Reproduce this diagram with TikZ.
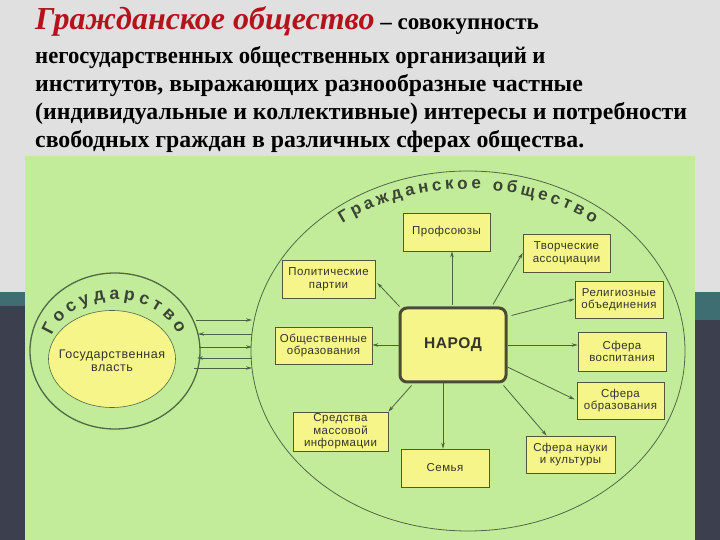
\documentclass[tikz,border=0pt]{standalone}
\usepackage{fontspec}
\setmainfont{Liberation Serif}
\newfontfamily\boxf[LetterSpace=4]{Liberation Sans}
\newfontfamily\ringf{Liberation Sans}
\usetikzlibrary{arrows.meta,calc,decorations.text,shapes.geometric}
\definecolor{bggray}{HTML}{E0E0E0}
\definecolor{stripteal}{HTML}{3E6E72}
\definecolor{stripdark}{HTML}{3C3F4E}
\definecolor{panelgreen}{HTML}{C3EC9A}
\definecolor{boxfill}{HTML}{F5F58A}
\definecolor{boxline}{HTML}{55553A}
\definecolor{boxtext}{HTML}{35352A}
\definecolor{ringline}{HTML}{4E6A45}
\definecolor{arrline}{HTML}{4A6340}
\definecolor{ringtext}{HTML}{3A4535}
\definecolor{titlered}{HTML}{B5121B}
\begin{document}
\begin{tikzpicture}[x=1pt,y=1pt,
  box/.style={draw=boxline, fill=boxfill, line width=0.7pt, text=boxtext, align=center,
    inner sep=0pt, font=\boxf\fontsize{11.5}{12.5}\selectfont},
  arr/.style={draw=arrline, line width=0.8pt, -{Stealth[length=6pt,width=3.5pt]}},
  titleline/.style={anchor=base west, inner sep=0pt, font=\bfseries\fontsize{23.8}{26}\selectfont}]
\useasboundingbox (0,0) rectangle (720,540);
% background
\fill[bggray] (0,0) rectangle (720,540);
\fill[stripteal] (0,0) rectangle (25,248);
\fill[stripdark] (0,0) rectangle (25,234);
\fill[stripteal] (695,0) rectangle (720,248);
\fill[stripdark] (695,0) rectangle (720,220);
\fill[panelgreen] (25,0) rectangle (695,384);

% title
\node[titleline] (t1) at (35,510) {{\color{titlered}\itshape\fontsize{32}{34}\selectfont Гражданское общество} {\fontsize{23}{26}\selectfont– совокупность}};
\node[titleline] (t2) at (35,476) {\scalebox{0.953}[1]{негосударственных общественных организаций и}};
\node[titleline] (t3) at (35,448) {институтов, выражающих разнообразные частные};
\node[titleline] (t4) at (35,420) {(индивидуальные и коллективные) интересы и потребности};
\node[titleline] (t5) at (35,392) {свободных граждан в различных сферах общества.};

% civil society ellipse
\draw[ringline, line width=0.8pt] (468,189) ellipse [x radius=217, y radius=180];
\path[decorate, decoration={text along path, text align=fit to path,
  text={|\ringf\bfseries\fontsize{17}{18}\selectfont\color{ringtext}|Гражданское общество}}]
  ([shift={(468,189)}]128:204 and 162) arc[start angle=128, end angle=52, x radius=204, y radius=162];

% state ellipses
\draw[ringline, line width=1.3pt] (115,189) ellipse [x radius=85, y radius=78];
\draw[ringline, line width=0.6pt, fill=boxfill] (112,181) ellipse [x radius=63.5, y radius=48.5];
\node[inner sep=0pt, align=center, text=boxtext, font=\boxf\fontsize{12.5}{13.5}\selectfont] (vlast) at (112,179)
  {Государственная\\власть};
\path[decorate, decoration={text along path, text align=fit to path,
  text={|\ringf\bfseries\fontsize{17.5}{18}\selectfont\color{ringtext}|Государство}}]
  ([shift={(115,189)}]163:66 and 52) arc[start angle=163, end angle=19, x radius=66, y radius=52];

% arrows between state and society
\coordinate (sA1) at (196,220); \coordinate (cA1) at (252,220);
\coordinate (sA2) at (198,206); \coordinate (cA2) at (252,206);
\coordinate (sA3) at (199,193); \coordinate (cA3) at (252,193);
\coordinate (sA4) at (197,182); \coordinate (cA4) at (252,182);
\coordinate (sA5) at (194,172); \coordinate (cA5) at (252,172);
\draw[arr] (sA1) -- (cA1);
\draw[arr] (cA2) -- (sA2);
\draw[arr] (sA3) -- (cA3);
\draw[arr] (cA4) -- (sA4);
\draw[arr] (sA5) -- (cA5);

% boxes
\node[box, draw=boxline!90!black, line width=3pt, rounded corners=7pt, minimum width=106pt, minimum height=74pt,
  font=\boxf\bfseries\fontsize{15.5}{17}\selectfont] (narod) at (453,195) {НАРОД};
\node[box, minimum width=87pt, minimum height=38pt] (prof) at (446.5,308) {Профсоюзы};
\node[box, minimum width=87pt, minimum height=38pt] (tvor) at (566.5,287) {Творческие\\ассоциации};
\node[box, minimum width=88pt, minimum height=37pt] (relig) at (619,240.5) {Религиозные\\объединения};
\node[box, minimum width=88pt, minimum height=39pt] (vosp) at (622,188.5) {Сфера\\воспитания};
\node[box, minimum width=87pt, minimum height=37pt] (obraz) at (620.5,139.5) {Сфера\\образования};
\node[box, minimum width=89pt, minimum height=37pt] (nauka) at (570.5,85.5) {Сфера науки\\и культуры};
\node[box, minimum width=88pt, minimum height=38pt] (semya) at (445,72) {Семья};
\node[box, minimum width=95pt, minimum height=39pt] (smi) at (340.5,108.5) {Средства\\массовой\\информации};
\node[box, minimum width=97pt, minimum height=37pt] (obsch) at (323.5,194.5) {Общественные\\образования};
\node[box, minimum width=93pt, minimum height=38pt] (polit) at (328.5,261) {Политические\\партии};

% arrows from narod
\coordinate (nN) at (452,235);
\coordinate (nS) at (443,157);
\draw[arr] (nN) -- (nN |- prof.south);
\draw[arr] ($(narod.north)+(40,2)$) -- (tvor.west);
\draw[arr] ($(narod.north east)+(4,-9)$) -- ($(relig.west)+(0,0.5)$);
\draw[arr] (narod.east) -- (narod.east -| vosp.west);
\draw[arr] ($(narod.east)+(0,-22)$) -- ($(obraz.west)+(-2,1)$);
\draw[arr] ($(narod.south east)+(-4,-2)$) -- ($(nauka.north west)+(21,0)$);
\draw[arr] (nS) -- (nS |- semya.north);
\draw[arr] ($(narod.south west)+(13,-2)$) -- (smi.north east);
\draw[arr] (narod.west) -- (narod.west -| obsch.east);
\draw[arr] ($(narod.north west)+(1,0)$) -- ($(polit.east)+(2,-4)$);
\end{tikzpicture}
\end{document}
